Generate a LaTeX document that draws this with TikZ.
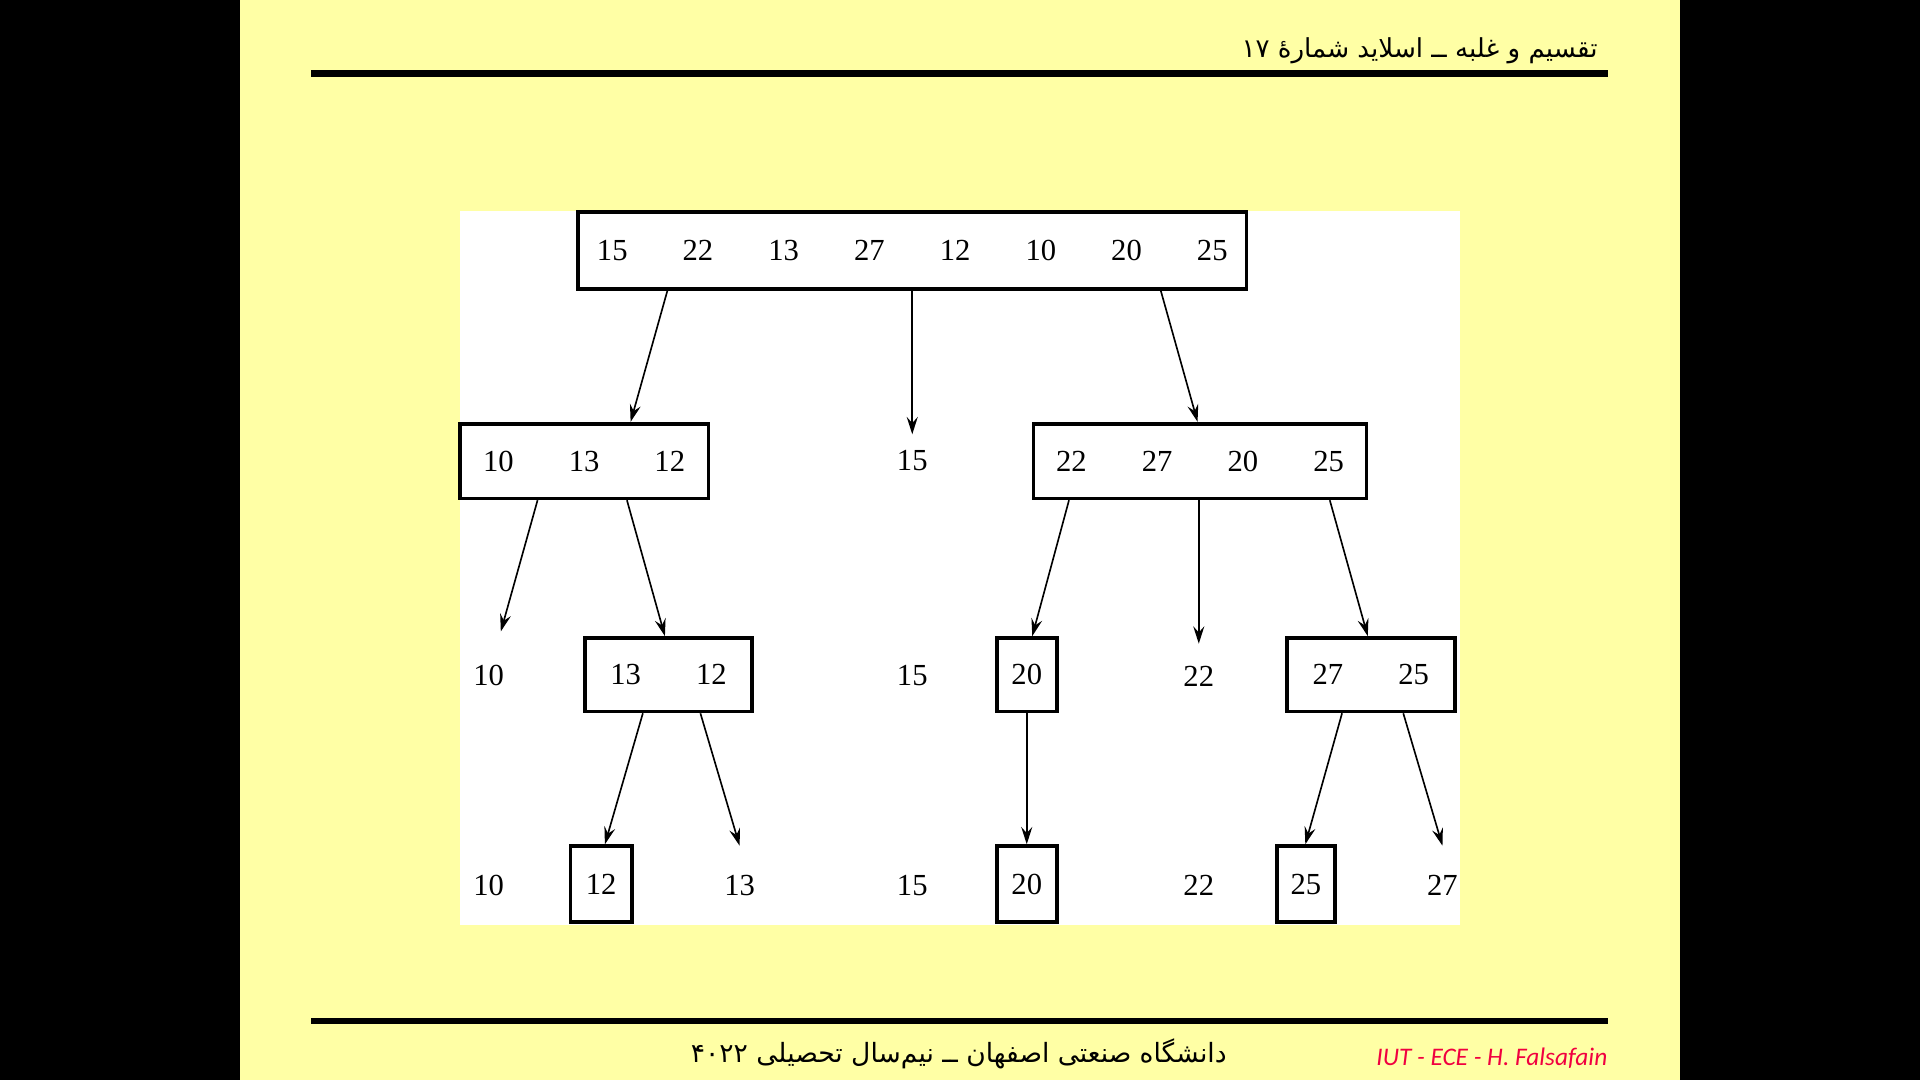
\documentclass[tikz,border=0pt]{standalone}
\usepackage{fontspec}
\setmainfont{Liberation Serif}
\newfontfamily\persianfont[Script=Arabic]{DejaVu Sans}
\newfontfamily\signfont{Carlito}
\TeXXeTstate=1
\usetikzlibrary{arrows.meta}
\definecolor{slideyellow}{RGB}{255,255,165}
\definecolor{signred}{RGB}{240,0,64}
\newcommand{\nsep}{\hspace{27pt}}

\begin{document}
\begin{tikzpicture}[x=0.6pt,y=-0.6pt,
      font=\fontsize{15pt}{18pt}\selectfont,
      box/.style={draw,line width=1.8pt,inner sep=0pt,minimum width=#1,minimum height=36.6pt},
      leaf/.style={inner sep=0pt,minimum height=#1},
      leaf/.default=0pt,
      arr/.style={-{Stealth[length=8.5pt,width=5.4pt,inset=3pt]},line width=0.8pt}]
    \useasboundingbox (0,0) rectangle (1568,882);
    % slide
    \fill[black] (0,0) rectangle (1568,882);
    \fill[slideyellow] (196,0) rectangle (1372,882);
    \draw[line width=3pt] (254,60) -- (1313,60);
    \draw[line width=3pt] (254,834) -- (1313,834);
    \node[anchor=base east,inner sep=0pt,font=\persianfont\fontsize{12.8pt}{15pt}\selectfont] (title) at (1305,47)
      {\beginR تقسیم و غلبه ــ اسلاید شمارهٔ ۱۷\endR};
    \node[anchor=base,inner sep=0pt,font=\persianfont\fontsize{13pt}{15pt}\selectfont] (uni) at (783,868)
      {\beginR دانشگاه صنعتی اصفهان ــ نیم‌سال تحصیلی ۴۰۲۲\endR};
    \node[anchor=base east,inner sep=0pt,text=signred,font=\signfont\itshape\fontsize{12.4pt}{15pt}\selectfont] (sign) at (1313,870)
      {IUT - ECE - H. Falsafain};
    \fill[white] (376,172) rectangle (1192,755);
    % level 0
    \node[box=327.6pt,minimum height=37.8pt] (a) at (745,204.5) {15\nsep22\nsep13\nsep27\nsep12\nsep10\nsep20\nsep25};
    % level 1
    \node[box=121.8pt] (b1) at (477,376.5) {10\nsep13\nsep12};
    \node[leaf=25.2pt] (b2) at (745,376) {15};
    \node[box=163.2pt] (b3) at (980,376.5) {22\nsep27\nsep20\nsep25};
    % level 2
    \node[leaf=43.2pt] (c1) at (399,552) {10};
    \node[box=81.6pt,minimum height=36pt] (c2) at (546,551) {13\nsep12};
    \node[leaf] (c3) at (745,552) {15};
    \node[box=29.4pt,minimum height=36pt] (c4) at (838.5,551) {20};
    \node[leaf=31.2pt] (c5) at (979,552) {22};
    \node[box=82.2pt,minimum height=36pt] (c6) at (1119.5,551) {27\nsep25};
    % level 3
    \node[leaf] (d1) at (399,723) {10};
    \node[box=30pt,minimum height=37.2pt] (d2) at (491,722) {12};
    \node[leaf=38.4pt] (d3) at (604,723) {13};
    \node[leaf] (d4) at (745,723) {15};
    \node[box=29.4pt,minimum height=37.2pt] (d5) at (838.5,722) {20};
    \node[leaf] (d6) at (979,723) {22};
    \node[box=28.2pt,minimum height=37.2pt] (d7) at (1066.5,722) {25};
    \node[leaf=38.4pt] (d8) at (1178,723) {27};
    % arrows
    \draw[arr] (a.south -| 545,0) -- (b1.north -| 515,0);
    \draw[arr] (a.south -| 745,0) -- (b2.north);
    \draw[arr] (a.south -| 948,0) -- (b3.north -| 978,0);
    \draw[arr] (b1.south -| 439,0) -- (c1.north -| 409,0);
    \draw[arr] (b1.south -| 512,0) -- (c2.north -| 543,0);
    \draw[arr] (b3.south -| 873,0) -- (c4.north -| 843,0);
    \draw[arr] (b3.south -| 979,0) -- (c5.north);
    \draw[arr] (b3.south -| 1086,0) -- (c6.north -| 1117,0);
    \draw[arr] (c2.south -| 525,0) -- (d2.north -| 494,0);
    \draw[arr] (c2.south -| 572,0) -- (d3.north -| 604,0);
    \draw[arr] (c4.south) -- (d5.north);
    \draw[arr] (c6.south -| 1096,0) -- (d7.north -| 1066,0);
    \draw[arr] (c6.south -| 1146,0) -- (d8.north -| 1178,0);
\end{tikzpicture}
\end{document}
